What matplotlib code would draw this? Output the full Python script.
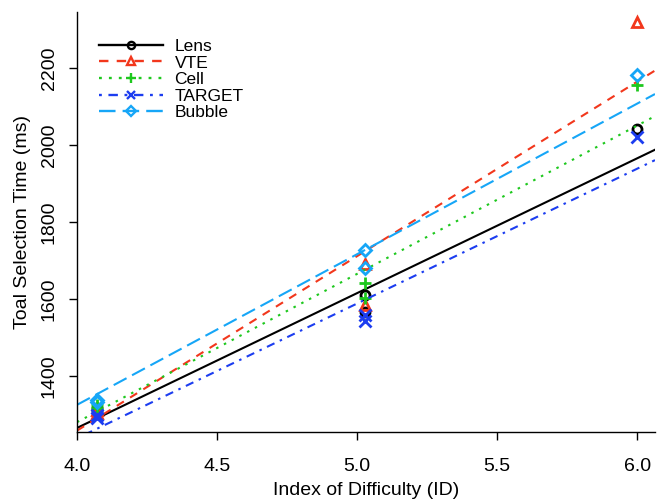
import matplotlib
matplotlib.use("Agg")
import matplotlib.pyplot as plt
import numpy as np

plt.rcParams['font.family'] = ['Liberation Sans', 'DejaVu Sans']

techniques = ["Lens", "VTE", "Cell", "TARGET", "Bubble"]
ids = [4.07, 4.07, 5.03, 5.03, 6.0]
times = {
    "Lens":   [1317, 1310, 1610, 1566, 2042],
    "VTE":    [1312, 1305, 1691, 1584, 2319],
    "Cell":   [1325, 1318, 1641, 1603, 2156],
    "TARGET": [1291, 1298, 1558, 1543, 2021],
    "Bubble": [1338, 1332, 1727, 1680, 2182],
}
# regression fits: time = intercept + slope * ID
slopes = {"Lens": 350, "VTE": 453, "Cell": 385, "TARGET": 350, "Bubble": 391}
intercepts = {"Lens": 1265 - 350 * 4, "VTE": 1258 - 453 * 4, "Cell": 1280 - 385 * 4,
              "TARGET": 1238 - 350 * 4, "Bubble": 1325 - 391 * 4}
xticks = [4.0, 4.5, 5.0, 5.5, 6.0]
yticks = [1400, 1600, 1800, 2000, 2200]

colors = {"Lens": "#000000", "VTE": "#F2371C", "Cell": "#1EC81E",
          "TARGET": "#1C3DF0", "Bubble": "#16A6F7"}
dashes = {"Lens": None, "VTE": (4, 3.5), "Cell": (1.2, 3), "TARGET": (1.2, 2.8, 4, 2.8),
          "Bubble": (7, 3)}
markers = {"Lens": "o", "VTE": "^", "Cell": "+", "TARGET": "x", "Bubble": "D"}
msizes = {"Lens": 6.5, "VTE": 7, "Cell": 9, "TARGET": 8, "Bubble": 6}

fig = plt.figure(figsize=(6.57, 5.0), dpi=100)
ax = fig.add_axes([77/657, 1 - 432/500, (655 - 77)/657, (432 - 12)/500])
xlim = (4.0, 6.064)
ylim = (1254.5, 2345)
ax.set_xlim(*xlim)
ax.set_ylim(*ylim)

xx = np.array(xlim)
handles = []
for t in techniques:
    c = colors[t]
    line, = ax.plot(xx, intercepts[t] + slopes[t] * xx, color=c, lw=1.5)
    if dashes[t] is not None:
        line.set_dashes(dashes[t])
    ax.plot(ids, times[t], linestyle='none', marker=markers[t], ms=msizes[t],
            mfc='none', mec=c, mew=2, clip_on=False)
    h, = ax.plot([], [], color=c, lw=1.7, marker=markers[t], ms=msizes[t] * 0.8,
                 mfc='none', mec=c, mew=1.7)
    if dashes[t] is not None:
        h.set_dashes(dashes[t])
    handles.append(h)

leg = ax.legend(handles, techniques, loc='upper left', bbox_to_anchor=(0.017, 0.965),
                frameon=False, fontsize=12.5, handlelength=3.7, handletextpad=0.65,
                labelspacing=0.08, borderaxespad=0.3)

for s in ['top', 'right']:
    ax.spines[s].set_visible(False)
ax.spines['left'].set_linewidth(1)
ax.spines['bottom'].set_linewidth(1)

ax.set_xticks(xticks)
ax.set_xticklabels([f"{v:.1f}" for v in xticks])
ax.set_yticks(yticks)
ax.set_yticklabels([str(v) for v in yticks], rotation=90, va='center')
ax.tick_params(direction='out', length=6, width=1, labelsize=14)
ax.tick_params(axis='x', pad=13)
ax.tick_params(axis='y', pad=8)

ax.set_xlabel("Index of Difficulty (ID)", fontsize=14, labelpad=5)
ax.set_ylabel("Toal Selection Time (ms)", fontsize=14, labelpad=7)

fig.savefig("out.png", dpi=100)
